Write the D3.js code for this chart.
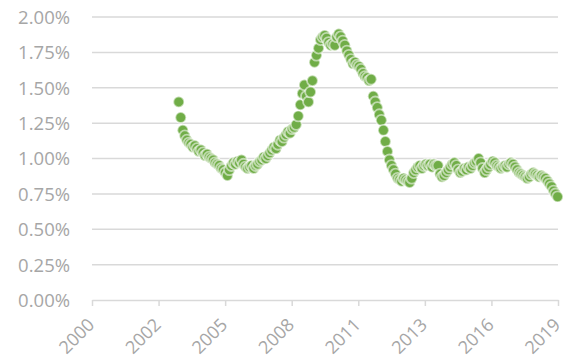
<!DOCTYPE html>
<html>
<head>
<meta charset="utf-8">
<script src="https://cdn.jsdelivr.net/npm/d3@7"></script>
<style>
  html, body { margin: 0; padding: 0; background: #fff; }
  svg { display: block; }
</style>
</head>
<body>
<svg id="chart" width="564" height="362"></svg>
<script>
// ---- data ----
const firstMonth = "2003-09";   // first observation, monthly series
const values = [
  // 2003 Sep-Dec
  1.40, 1.29, 1.20, 1.16,
  // 2004
  1.13, 1.11, 1.10, 1.08, 1.09, 1.07, 1.05, 1.06, 1.04, 1.02, 1.03, 1.01,
  // 2005
  1.00, 0.99, 0.97, 0.96, 0.95, 0.93, 0.92, 0.90, 0.88, 0.92, 0.95, 0.97,
  // 2006
  0.96, 0.98, 0.97, 0.99, 0.96, 0.94, 0.93, 0.94, 0.95, 0.93, 0.95, 0.96,
  // 2007
  0.98, 0.99, 1.01, 1.00, 1.02, 1.04, 1.06, 1.08, 1.07, 1.10, 1.13, 1.12,
  // 2008
  1.15, 1.17, 1.19, 1.18, 1.21, 1.22, 1.24, 1.30, 1.38, 1.46, 1.52, 1.44,
  // 2009
  1.40, 1.47, 1.55, 1.68, 1.73, 1.78, 1.84, 1.86, 1.87, 1.85, 1.82, 1.80,
  // 2010
  1.81, 1.80, 1.86, 1.88, 1.86, 1.83, 1.80, 1.76, 1.73, 1.70, 1.67, 1.68,
  // 2011
  1.66, 1.65, 1.63, 1.60, 1.58, 1.57, 1.55, 1.56, 1.44, 1.40, 1.36, 1.31,
  // 2012
  1.27, 1.20, 1.12, 1.05, 0.99, 0.95, 0.92, 0.89, 0.86, 0.85, 0.84, 0.86,
  // 2013
  0.85, 0.84, 0.83, 0.86, 0.90, 0.92, 0.94, 0.95, 0.93, 0.95, 0.96, 0.95,
  // 2014
  0.96, 0.94, 0.96, 0.95, 0.95, 0.89, 0.87, 0.88, 0.90, 0.92, 0.94, 0.96,
  // 2015
  0.97, 0.95, 0.92, 0.90, 0.91, 0.93, 0.92, 0.94, 0.93, 0.95, 0.97, 0.98,
  // 2016
  1.00, 0.97, 0.93, 0.90, 0.92, 0.94, 0.96, 0.98, 0.97, 0.95, 0.94, 0.93,
  // 2017
  0.94, 0.95, 0.94, 0.96, 0.97, 0.96, 0.94, 0.92, 0.90, 0.89, 0.88, 0.87,
  // 2018
  0.86, 0.87, 0.89, 0.90, 0.89, 0.88, 0.87, 0.88, 0.87, 0.86, 0.84, 0.82,
  // 2019 Jan-Apr
  0.80, 0.77, 0.75, 0.73
];
const axisStart = "2000-02-06";   // date axis minimum
const majorUnitDays = 1000;       // date axis major unit
const xTickLabels = ["2000", "2002", "2005", "2008", "2011", "2013", "2016", "2019"];
const yTicks = [0, 0.25, 0.5, 0.75, 1.0, 1.25, 1.5, 1.75, 2.0];

// ---- build ----
(function () {
const parseMonth = d3.timeParse("%Y-%m");
const parseDay = d3.timeParse("%Y-%m-%d");
const m0 = parseMonth(firstMonth);
const points = values.map((v, i) => ({ date: d3.timeMonth.offset(m0, i), value: v }));
const start = parseDay(axisStart);
const tickDates = xTickLabels.map((_, i) => d3.timeDay.offset(start, i * majorUnitDays));

const svg = d3.select("#chart");
const mLeft = 92, mRight = 558, mTop = 17, mBottom = 300;

const x = d3.scaleTime().domain([start, tickDates[tickDates.length - 1]]).range([mLeft, mRight]);
const y = d3.scaleLinear().domain([0, 2]).range([mBottom, mTop]);

const textColor = "#a6a6a6";
const gridColor = "#d9d9d9";
const fontFamily = "'Open Sans', 'Noto Sans', sans-serif";

// gridlines (excluding 0 which is the axis line)
svg.append("g")
  .selectAll("line")
  .data(yTicks.filter(d => d > 0))
  .join("line")
  .attr("x1", mLeft).attr("x2", mRight)
  .attr("y1", d => y(d)).attr("y2", d => y(d))
  .attr("stroke", gridColor).attr("stroke-width", 1.5);

// y axis labels
const yAxis = d3.axisLeft(y).tickValues(yTicks).tickFormat(d => d3.format(".2f")(d) + "%").tickSize(0).tickPadding(22);
const gy = svg.append("g").attr("transform", `translate(${mLeft},0)`).call(yAxis);
gy.select(".domain").remove();
gy.selectAll("text")
  .attr("fill", textColor)
  .style("font-family", fontFamily)
  .style("font-size", "18.5px")
  .attr("dy", "0.35em");

// x axis
const xAxis = d3.axisBottom(x).tickValues(tickDates).tickFormat((d, i) => xTickLabels[i]).tickSize(6).tickSizeOuter(0);
const gx = svg.append("g").attr("transform", `translate(0,${mBottom})`).call(xAxis);
gx.select(".domain").attr("stroke", gridColor).attr("stroke-width", 1.5);
gx.selectAll(".tick line").attr("stroke", gridColor).attr("stroke-width", 1.5);
gx.selectAll("text")
  .attr("fill", textColor)
  .style("font-family", fontFamily)
  .style("font-size", "18px")
  .attr("text-anchor", "end")
  .attr("x", 0).attr("y", 0).attr("dy", 0)
  .attr("transform", "translate(3,26) rotate(-45)");

// points
svg.append("g")
  .selectAll("circle")
  .data(points)
  .join("circle")
  .attr("cx", d => x(d.date))
  .attr("cy", d => y(d.value))
  .attr("r", 5.4)
  .attr("fill", "#70ad47")
  .attr("stroke", "#ffffff")
  .attr("stroke-opacity", 0.55)
  .attr("stroke-width", 1.8);
})();
</script>
</body>
</html>
